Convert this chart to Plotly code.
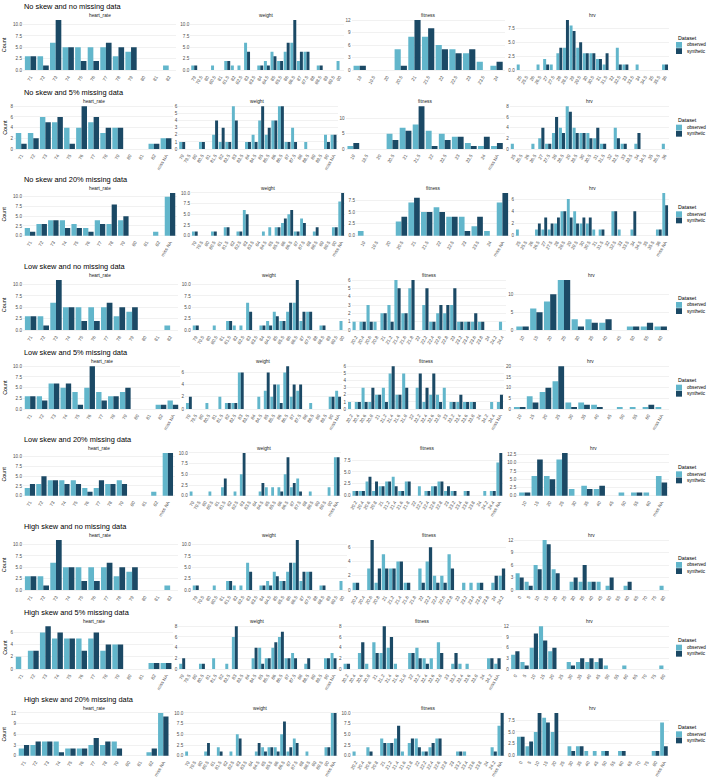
import math
import plotly.graph_objects as go

OBS_COLOR = "#62B6CB"
SYN_COLOR = "#1B4965"
NA = "miss NA"

row_titles = ["No skew and no missing data", "No skew and 5% missing data", "No skew and 20% missing data",
              "Low skew and no missing data", "Low skew and 5% missing data", "Low skew and 20% missing data",
              "High skew and no missing data", "High skew and 5% missing data", "High skew and 20% missing data"]
variables = ["heart_rate", "weight", "fitness", "hrv"]
legend_labels = ["observed", "synthetic"]

hr_cats = ["71", "72", "73", "74", "75", "76", "77", "78", "79", "80", "81", "82"]
wt_cats = ["79", "79.5", "80", "80.5", "81", "81.5", "82", "82.5", "83", "83.5", "84", "84.5",
           "85", "85.5", "86", "86.5", "87", "87.5", "88", "88.5", "89", "89.5", "90"]
fit_cats_none = ["19", "19.5", "20", "20.5", "21", "21.5", "22", "22.5", "23", "23.5", "24"]
fit_cats_low = ["20.2", "20.4", "20.6", "20.8", "21", "21.2", "21.4", "21.6", "21.8", "22", "22.2",
                "22.4", "22.6", "22.8", "23", "23.2", "23.4", "23.6", "23.8", "24", "24.2", "24.4"]
fit_cats_high = ["20.2", "20.4", "20.6", "20.8", "21", "21.2", "21.4", "21.6", "21.8", "22", "22.2",
                 "22.4", "22.6", "22.8", "23", "23.2", "23.4", "23.6", "23.8", "24", "24.2"]
hrv_cats_none = ["25", "25.5", "26", "26.5", "27", "27.5", "28", "28.5", "29", "29.5", "30", "30.5",
                 "31", "31.5", "32", "32.5", "33", "33.5", "34", "34.5", "35", "35.5", "36"]
hrv_cats_low = ["10", "15", "20", "25", "30", "35", "40", "45", "50", "55", "60"]
hrv_cats_high = ["0", "5", "10", "15", "20", "25", "30", "35", "40", "45", "50", "55", "60", "65", "70", "75", "80"]

# ---- row 1: no skew, no missing
r1_hr_obs = [3, 3, 6, 5, 5, 5, 5, 3, 4, 0, 0, 1]
r1_hr_syn = [3, 1, 11, 5, 2, 2, 6, 5, 5, 0, 0, 0]
r1_wt_obs = [1, 0, 0, 1, 0, 2, 1, 1, 6, 0, 1, 2, 4, 2, 4, 6, 2, 4, 0, 1, 0, 0, 2]
r1_wt_syn = [1, 0, 0, 0, 0, 2, 0, 0, 4, 0, 1, 1, 3, 2, 6, 11, 4, 4, 0, 1, 0, 0, 0]
r1_fit_obs = [1, 0, 0, 5, 8, 8, 6, 5, 4, 2, 1]
r1_fit_syn = [1, 0, 0, 1, 12, 10, 5, 4, 5, 0, 2]
r1_hrv_obs = [1, 0, 0, 1, 2, 1, 3, 4, 8, 4, 3, 3, 2, 1, 0, 4, 1, 0, 1, 0, 0, 0, 1]
r1_hrv_syn = [0, 0, 0, 0, 1, 0, 4, 9, 7, 5, 3, 3, 2, 3, 0, 1, 1, 0, 0, 0, 0, 0, 1]
# ---- row 2: no skew, 5% missing
r2_hr_obs = [3, 3, 6, 5, 4, 4, 5, 3, 4, 0, 0, 1, 2]
r2_hr_syn = [1, 2, 5, 6, 1, 8, 6, 4, 4, 0, 0, 1, 2]
r2_wt_obs = [1, 0, 0, 1, 0, 2, 1, 1, 6, 0, 1, 2, 4, 2, 4, 6, 1, 3, 0, 1, 0, 0, 2, 2]
r2_wt_syn = [1, 0, 0, 1, 0, 4, 3, 1, 4, 0, 1, 1, 6, 3, 4, 6, 1, 1, 0, 0, 0, 0, 1, 2]
r2_fit_obs = [1, 0, 0, 5, 7, 8, 6, 5, 4, 2, 1, 1]
r2_fit_syn = [2, 0, 0, 3, 6, 14, 1, 3, 4, 1, 4, 2]
r2_hrv_obs = [1, 0, 0, 1, 2, 1, 3, 4, 8, 4, 3, 3, 2, 1, 0, 4, 1, 0, 1, 0, 0, 0, 1]
r2_hrv_syn = [0, 0, 0, 0, 4, 1, 6, 3, 7, 3, 3, 2, 4, 1, 0, 2, 1, 0, 3, 0, 0, 0, 0]
# ---- row 3: no skew, 20% missing
r3_hr_obs = [2, 3, 4, 4, 3, 2, 4, 3, 4, 0, 0, 1, 10]
r3_hr_syn = [1, 3, 4, 2, 2, 1, 3, 8, 5, 0, 0, 0, 11]
r3_wt_obs = [1, 0, 0, 1, 0, 2, 0, 1, 6, 0, 0, 1, 2, 2, 3, 5, 1, 4, 0, 1, 0, 0, 2, 8]
r3_wt_syn = [1, 0, 0, 1, 0, 2, 0, 1, 5, 0, 0, 0, 0, 2, 4, 6, 1, 3, 0, 2, 0, 0, 2, 10]
r3_fit_obs = [1, 0, 0, 3, 7, 5, 6, 4, 4, 2, 1, 7]
r3_fit_syn = [0, 0, 0, 4, 8, 5, 5, 4, 1, 4, 0, 9]
r3_hrv_obs = [1, 0, 0, 1, 1, 1, 2, 4, 6, 4, 2, 2, 1, 1, 0, 4, 1, 0, 1, 0, 0, 0, 1, 7]
r3_hrv_syn = [0, 0, 0, 2, 3, 2, 3, 4, 3, 2, 3, 3, 0, 1, 0, 4, 0, 0, 4, 0, 0, 0, 1, 5]
# ---- row 4: low skew, no missing
r4_hr_obs = [3, 3, 6, 5, 5, 5, 5, 3, 4, 0, 0, 1]
r4_hr_syn = [3, 1, 11, 5, 2, 2, 6, 5, 5, 0, 0, 0]
r4_wt_obs = [1, 0, 0, 1, 0, 2, 1, 1, 6, 0, 1, 2, 4, 2, 4, 6, 2, 4, 0, 1, 0, 0, 2]
r4_wt_syn = [1, 0, 0, 0, 0, 2, 0, 0, 4, 0, 1, 1, 3, 2, 6, 11, 4, 4, 0, 1, 0, 0, 0]
r4_fit_obs = [1, 1, 3, 1, 2, 3, 6, 2, 5, 0, 3, 1, 2, 2, 3, 1, 1, 1, 1, 0, 0, 1]
r4_fit_syn = [0, 1, 1, 0, 2, 1, 5, 2, 6, 0, 5, 1, 3, 3, 5, 1, 1, 2, 1, 0, 0, 0]
r4_hrv_obs = [1, 6, 8, 14, 3, 3, 2, 0, 1, 1, 1]
r4_hrv_syn = [1, 5, 10, 14, 1, 2, 3, 0, 1, 2, 1]
# ---- row 5: low skew, 5% missing
r5_hr_obs = [3, 3, 6, 5, 4, 5, 4, 3, 4, 0, 0, 1, 2]
r5_hr_syn = [3, 2, 6, 6, 1, 10, 2, 3, 5, 0, 0, 1, 1]
r5_wt_obs = [1, 0, 0, 1, 0, 2, 1, 1, 6, 0, 0, 2, 3, 2, 4, 6, 2, 3, 0, 1, 0, 0, 2, 3]
r5_wt_syn = [2, 0, 0, 0, 0, 0, 1, 1, 6, 0, 0, 0, 6, 4, 1, 7, 4, 4, 0, 0, 0, 0, 2, 2]
r5_fit_obs = [1, 1, 3, 1, 2, 3, 5, 2, 5, 0, 3, 1, 2, 2, 3, 1, 1, 1, 1, 0, 0, 1, 1]
r5_fit_syn = [0, 1, 1, 3, 2, 1, 6, 2, 3, 0, 5, 3, 5, 1, 0, 1, 2, 1, 1, 0, 0, 0, 2]
r5_hrv_obs = [1, 6, 8, 13, 3, 3, 2, 0, 1, 1, 1, 1]
r5_hrv_syn = [1, 3, 10, 20, 1, 2, 1, 0, 0, 0, 2, 0]
# ---- row 6: low skew, 20% missing
r6_hr_obs = [2, 3, 4, 4, 4, 2, 2, 3, 4, 0, 0, 1, 11]
r6_hr_syn = [3, 5, 4, 3, 3, 1, 4, 3, 3, 0, 0, 0, 11]
r6_wt_obs = [1, 0, 0, 1, 0, 2, 0, 1, 5, 0, 0, 1, 2, 2, 2, 5, 2, 4, 0, 1, 0, 0, 2, 9]
r6_wt_syn = [0, 0, 0, 0, 0, 4, 0, 0, 10, 0, 0, 3, 0, 0, 1, 9, 3, 1, 0, 0, 0, 0, 0, 9]
r6_fit_obs = [1, 1, 3, 1, 2, 3, 4, 1, 3, 0, 2, 1, 2, 3, 1, 1, 0, 1, 0, 0, 1, 1, 7]
r6_fit_syn = [1, 1, 4, 3, 2, 3, 2, 1, 3, 0, 0, 1, 2, 3, 2, 1, 0, 1, 0, 0, 0, 1, 9]
r6_hrv_obs = [1, 6, 6, 11, 2, 3, 2, 0, 1, 1, 1, 6]
r6_hrv_syn = [1, 11, 5, 13, 0, 2, 3, 0, 0, 1, 0, 4]
# ---- row 7: high skew, no missing
r7_hr_obs = [3, 3, 6, 5, 5, 5, 5, 3, 4, 0, 0, 1]
r7_hr_syn = [3, 1, 11, 5, 2, 2, 6, 5, 5, 0, 0, 0]
r7_wt_obs = [1, 0, 0, 1, 0, 2, 1, 1, 6, 0, 1, 2, 4, 2, 4, 6, 2, 4, 0, 1, 0, 0, 2]
r7_wt_syn = [1, 0, 0, 0, 0, 2, 0, 0, 4, 0, 1, 1, 3, 2, 6, 11, 4, 4, 0, 1, 0, 0, 0]
r7_fit_obs = [1, 0, 3, 1, 5, 3, 4, 1, 0, 3, 4, 2, 2, 5, 0, 1, 1, 1, 0, 1, 2]
r7_fit_syn = [1, 0, 7, 3, 3, 3, 4, 1, 0, 1, 6, 1, 1, 3, 0, 0, 0, 1, 0, 2, 3]
r7_hrv_obs = [4, 2, 6, 12, 5, 0, 2, 2, 2, 2, 1, 0, 1, 0, 0, 0, 1]
r7_hrv_syn = [3, 1, 5, 11, 4, 0, 3, 6, 2, 0, 3, 0, 2, 0, 0, 0, 0]
# ---- row 8: high skew, 5% missing
r8_hr_obs = [2, 3, 6, 5, 5, 5, 5, 3, 4, 0, 0, 1, 1]
r8_hr_syn = [0, 3, 7, 6, 5, 3, 6, 4, 4, 0, 0, 1, 1]
r8_wt_obs = [1, 0, 0, 1, 0, 2, 0, 1, 6, 0, 0, 2, 4, 2, 4, 6, 2, 3, 0, 1, 0, 0, 2, 3]
r8_wt_syn = [2, 0, 0, 1, 0, 0, 0, 0, 8, 0, 0, 4, 1, 2, 5, 7, 2, 2, 0, 2, 0, 0, 2, 2]
r8_fit_obs = [1, 0, 3, 1, 5, 3, 4, 1, 0, 3, 4, 2, 2, 5, 0, 1, 1, 1, 0, 0, 2, 1]
r8_fit_syn = [1, 0, 5, 0, 3, 8, 6, 0, 0, 3, 2, 1, 0, 3, 0, 3, 0, 0, 0, 0, 2, 2]
r8_hrv_obs = [4, 2, 6, 12, 5, 0, 2, 2, 2, 2, 1, 0, 1, 0, 0, 0, 1]
r8_hrv_syn = [5, 1, 10, 8, 6, 0, 1, 3, 3, 3, 0, 0, 0, 0, 0, 0, 0]
# ---- row 9: high skew, 20% missing
r9_hr_obs = [2, 3, 4, 4, 2, 2, 3, 3, 4, 0, 0, 1, 12]
r9_hr_syn = [3, 4, 4, 1, 2, 2, 5, 4, 2, 0, 0, 2, 11]
r9_wt_obs = [1, 0, 0, 1, 0, 2, 0, 1, 5, 0, 0, 1, 2, 2, 2, 5, 1, 4, 0, 1, 0, 0, 2, 10]
r9_wt_syn = [0, 0, 0, 3, 0, 1, 0, 0, 4, 0, 0, 3, 1, 2, 1, 8, 2, 3, 0, 0, 0, 0, 2, 10]
r9_fit_obs = [1, 0, 2, 0, 4, 3, 4, 1, 3, 4, 1, 2, 4, 0, 0, 1, 1, 0, 0, 0, 2, 7]
r9_fit_syn = [0, 0, 1, 0, 3, 3, 7, 0, 4, 2, 1, 3, 4, 0, 0, 1, 0, 0, 0, 0, 1, 10]
r9_hrv_obs = [4, 2, 5, 8, 5, 0, 2, 2, 1, 1, 1, 0, 1, 0, 0, 0, 1, 7]
r9_hrv_syn = [4, 3, 9, 7, 9, 0, 1, 2, 0, 0, 1, 0, 1, 0, 0, 0, 1, 2]

rows = [
    [(hr_cats, r1_hr_obs, r1_hr_syn), (wt_cats, r1_wt_obs, r1_wt_syn),
     (fit_cats_none, r1_fit_obs, r1_fit_syn), (hrv_cats_none, r1_hrv_obs, r1_hrv_syn)],
    [(hr_cats + [NA], r2_hr_obs, r2_hr_syn), (wt_cats + [NA], r2_wt_obs, r2_wt_syn),
     (fit_cats_none + [NA], r2_fit_obs, r2_fit_syn), (hrv_cats_none, r2_hrv_obs, r2_hrv_syn)],
    [(hr_cats + [NA], r3_hr_obs, r3_hr_syn), (wt_cats + [NA], r3_wt_obs, r3_wt_syn),
     (fit_cats_none + [NA], r3_fit_obs, r3_fit_syn), (hrv_cats_none + [NA], r3_hrv_obs, r3_hrv_syn)],
    [(hr_cats, r4_hr_obs, r4_hr_syn), (wt_cats, r4_wt_obs, r4_wt_syn),
     (fit_cats_low, r4_fit_obs, r4_fit_syn), (hrv_cats_low, r4_hrv_obs, r4_hrv_syn)],
    [(hr_cats + [NA], r5_hr_obs, r5_hr_syn), (wt_cats + [NA], r5_wt_obs, r5_wt_syn),
     (fit_cats_low + [NA], r5_fit_obs, r5_fit_syn), (hrv_cats_low + [NA], r5_hrv_obs, r5_hrv_syn)],
    [(hr_cats + [NA], r6_hr_obs, r6_hr_syn), (wt_cats + [NA], r6_wt_obs, r6_wt_syn),
     (fit_cats_low + [NA], r6_fit_obs, r6_fit_syn), (hrv_cats_low + [NA], r6_hrv_obs, r6_hrv_syn)],
    [(hr_cats, r7_hr_obs, r7_hr_syn), (wt_cats, r7_wt_obs, r7_wt_syn),
     (fit_cats_high, r7_fit_obs, r7_fit_syn), (hrv_cats_high, r7_hrv_obs, r7_hrv_syn)],
    [(hr_cats + [NA], r8_hr_obs, r8_hr_syn), (wt_cats + [NA], r8_wt_obs, r8_wt_syn),
     (fit_cats_high + [NA], r8_fit_obs, r8_fit_syn), (hrv_cats_high, r8_hrv_obs, r8_hrv_syn)],
    [(hr_cats + [NA], r9_hr_obs, r9_hr_syn), (wt_cats + [NA], r9_wt_obs, r9_wt_syn),
     (fit_cats_high + [NA], r9_fit_obs, r9_fit_syn), (hrv_cats_high + [NA], r9_hrv_obs, r9_hrv_syn)],
]


def extended_breaks(dmin, dmax, m=5, Q=(1, 5, 2, 2.5, 4, 3), w=(0.25, 0.2, 0.5, 0.05)):
    """Wilkinson's extended labelling (as in R's labeling::extended)."""
    n = len(Q)
    best_score = -2.0
    best = None
    eps = 1e-10
    rng = dmax - dmin
    j = 1
    while j < 40:
        stop = False
        for qi, q in enumerate(Q):
            sm = 1 - qi / (n - 1) - j + 1
            if w[0] * sm + w[1] + w[2] + w[3] < best_score:
                stop = True
                break
            k = 2
            while k < 40:
                dm = 2 - (k - 1) / (m - 1) if k >= m else 1
                if w[0] * sm + w[1] + w[2] * dm + w[3] < best_score:
                    break
                delta = rng / (k + 1) / j / q
                z = math.ceil(math.log10(delta))
                while z < 12:
                    step = j * q * 10.0 ** z
                    span = step * (k - 1)
                    if span > rng:
                        half = (span - rng) / 2
                        cm = 1 - 0.5 * (2 * half * half) / ((0.1 * rng) ** 2)
                    else:
                        cm = 1
                    if w[0] * sm + w[1] * cm + w[2] * dm + w[3] < best_score:
                        break
                    min_start = math.floor(dmax / step) * j - (k - 1) * j
                    max_start = math.ceil(dmin / step) * j
                    if min_start > max_start:
                        z += 1
                        continue
                    for start in range(min_start, max_start + 1):
                        lmin = start * (step / j)
                        lmax = lmin + step * (k - 1)
                        mod = lmin % step
                        v = 1 if ((mod < eps or step - mod < eps) and lmin <= 0 <= lmax) else 0
                        s = 1 - qi / (n - 1) - j + v
                        c = 1 - 0.5 * ((dmax - lmax) ** 2 + (dmin - lmin) ** 2) / ((0.1 * rng) ** 2)
                        r = (k - 1) / (lmax - lmin)
                        rt = (m - 1) / (max(lmax, dmax) - min(dmin, lmin))
                        g = 2 - max(r / rt, rt / r)
                        score = w[0] * s + w[1] * c + w[2] * g + w[3]
                        if score > best_score:
                            best_score = score
                            best = (lmin, step, k)
                    z += 1
                k += 1
        if stop:
            break
        j += 1
    lmin, step, k = best
    return [round(lmin + i * step, 10) for i in range(k)]


def px_x(p):
    return p / 708.0


def px_y(p):
    return 1 - p / 780.0


fig = go.Figure()
annotations = []
shapes = []
layout_axes = {}
ROW_H = 780.0 / 9
TEXT = "#4D4D4D"
FONT = "Liberation Sans, Arial, sans-serif"

for ri, row in enumerate(rows):
    R = ROW_H * ri
    has_na = any(NA in p[0] for p in row)
    top = R + 17.5
    bottom = R + (64.5 if has_na else 72.5)
    tick_info = []
    for cats, obs, syn in row:
        mx = max(obs + syn)
        br = [b for b in extended_breaks(0, mx) if -1e-9 <= b <= mx + 1e-9]
        if all(abs(b - round(b)) < 1e-9 for b in br):
            tt = [str(int(round(b))) for b in br]
        else:
            tt = ["%.1f" % b for b in br]
        tick_info.append((mx, br, tt))
    aw = [max(len(t) for t in ti[2]) * 3.0 + 2.0 for ti in tick_info]
    Wp = (669.0 - 9.0 - sum(aw)) / 4.0
    cursor = 9.0
    for ci, (cats, obs, syn) in enumerate(row):
        k = ri * 4 + ci + 1
        left = cursor + aw[ci]
        right = left + Wp
        cursor = right
        mx, br, tt = tick_info[ci]
        xa = "x" if k == 1 else "x%d" % k
        ya = "y" if k == 1 else "y%d" % k
        for name, vals, col in ((legend_labels[0], obs, OBS_COLOR), (legend_labels[1], syn, SYN_COLOR)):
            fig.add_trace(go.Bar(x=cats, y=vals, name=name, marker=dict(color=col, line=dict(width=0)),
                                 xaxis=xa, yaxis=ya, showlegend=False, offsetgroup=name,
                                 hovertemplate="%{x}: %{y}<extra>" + name + "</extra>"))
        n = len(cats)
        layout_axes["xaxis" if k == 1 else "xaxis%d" % k] = dict(
            domain=[px_x(left), px_x(right)], anchor=ya, type="category",
            categoryorder="array", categoryarray=cats, range=[-0.6, n - 0.4],
            tickangle=-60, tickfont=dict(size=4.6, color=TEXT, family=FONT),
            showgrid=False, zeroline=False, showline=False, ticks="", automargin=False,
            fixedrange=True)
        layout_axes["yaxis" if k == 1 else "yaxis%d" % k] = dict(
            domain=[px_y(bottom), px_y(top)], anchor=xa, range=[-0.05 * mx, 1.05 * mx],
            tickvals=br, ticktext=tt, tickfont=dict(size=4.6, color=TEXT, family=FONT),
            showgrid=True, gridcolor="#EBEBEB", gridwidth=0.7, zeroline=False, showline=False,
            ticks="", automargin=False, fixedrange=True)
        annotations.append(dict(x=px_x((left + right) / 2), y=px_y(R + 15.2), xref="paper", yref="paper",
                                text=variables[ci], showarrow=False, xanchor="center", yanchor="middle",
                                font=dict(size=4.8, color="#1A1A1A", family=FONT)))
    annotations.append(dict(x=px_x(21.5), y=px_y(R + 6.3), xref="paper", yref="paper", text=row_titles[ri],
                            showarrow=False, xanchor="left", yanchor="middle",
                            font=dict(size=7.4, color="#000000", family=FONT)))
    c = (top + bottom) / 2
    annotations.append(dict(x=px_x(4.2), y=px_y(c), xref="paper", yref="paper", text="Count",
                            showarrow=False, textangle=-90, xanchor="center", yanchor="middle",
                            font=dict(size=5.4, color="#000000", family=FONT)))
    annotations.append(dict(x=px_x(675.5), y=px_y(c - 7.2), xref="paper", yref="paper", text="Dataset",
                            showarrow=False, xanchor="left", yanchor="middle",
                            font=dict(size=5.3, color="#000000", family=FONT)))
    for li, (lab, col) in enumerate(zip(legend_labels, (OBS_COLOR, SYN_COLOR))):
        y0 = c - 3 + li * 6.2
        shapes.append(dict(type="rect", xref="paper", yref="paper", x0=px_x(676), x1=px_x(682),
                           y0=px_y(y0 + 5.8), y1=px_y(y0), fillcolor=col, line=dict(width=0)))
        annotations.append(dict(x=px_x(684.5), y=px_y(y0 + 2.9), xref="paper", yref="paper", text=lab,
                                showarrow=False, xanchor="left", yanchor="middle",
                                font=dict(size=4.6, color="#000000", family=FONT)))

fig.update_layout(
    width=708, height=780, margin=dict(l=0, r=0, t=0, b=0),
    paper_bgcolor="white", plot_bgcolor="white",
    barmode="group", bargap=0.1, bargroupgap=0.0,
    showlegend=False, annotations=annotations, shapes=shapes,
    font=dict(family=FONT), hovermode=False,
    **layout_axes,
)

fig.write_html("out.html", config={"displayModeBar": False, "staticPlot": True},
               post_script="document.body.style.margin='0';document.body.style.overflow='hidden';")
